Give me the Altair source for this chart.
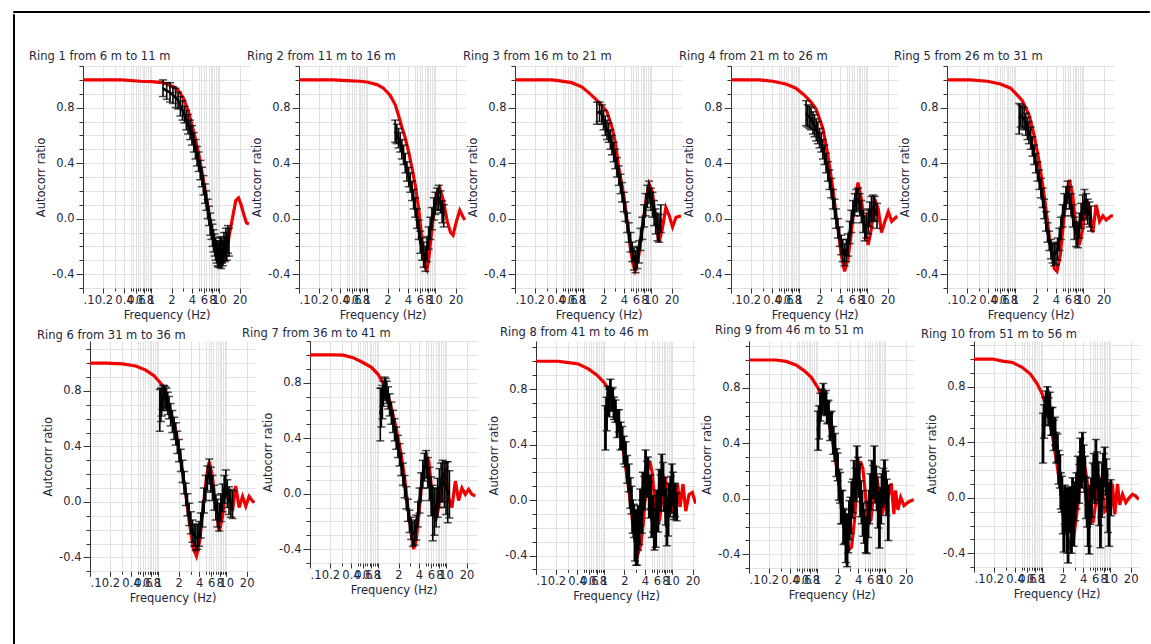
import altair as alt
import pandas as pd

TITLES = ["Ring 1 from 6 m to 11 m", "Ring 2 from 11 m to 16 m", "Ring 3 from 16 m to 21 m",
          "Ring 4 from 21 m to 26 m", "Ring 5 from 26 m to 31 m", "Ring 6 from 31 m to 36 m",
          "Ring 7 from 36 m to 41 m", "Ring 8 from 41 m to 46 m", "Ring 9 from 46 m to 51 m",
          "Ring 10 from 51 m to 56 m"]

X_TICKS = [0.1, 0.2, 0.3, 0.4, 0.5, 0.55, 0.6, 0.65, 0.7, 0.75, 0.8, 0.85, 0.9, 0.95, 1,
           2, 3, 4, 5, 5.5, 6, 6.5, 7, 7.5, 8, 8.5, 9, 9.5, 10, 20]
X_LABEL_VALUES = [0.1, 0.2, 0.4, 0.6, 0.8, 1, 2, 4, 6, 8, 10, 20]
X_LABEL_TEXT = [".1", "0.2", "0.4", "0.6", "0.8", "1", "2", "4", "6", "8", "10", "20"]
Y_TICKS = [-0.5, -0.4, -0.3, -0.2, -0.1, 0.0, 0.1, 0.2, 0.3, 0.4, 0.5, 0.6, 0.7, 0.8, 0.9, 1.0, 1.1]
Y_LABELED = [-0.4, 0.0, 0.4, 0.8]

# ---------------- Ring 1 ----------------
R1_RED_F = [0.1, 0.37, 0.7, 1.03, 1.45, 1.82, 2.16, 2.56, 3.04, 3.6,
            4.27, 5.06, 5.67, 6.35, 7.1, 7.97, 8.93, 10.0, 10.8, 11.9,
            13.0, 14.0, 15.7, 17.6, 19.3, 21.1, 23.4, 25.3, 27.5]
R1_RED_V = [1.0, 1.0, 0.99, 0.988, 0.98, 0.965, 0.95, 0.92, 0.86, 0.76,
            0.62, 0.46, 0.32, 0.19, 0.03, -0.1, -0.2, -0.29, -0.33, -0.31,
            -0.22, -0.13, 0.0, 0.13, 0.15, 0.1, 0.02, -0.03, -0.04]
R1_F = [1.5, 1.7, 1.9, 2.1, 2.3, 2.5, 2.7, 2.9, 3.1, 3.3,
        3.5, 3.75, 4.0, 4.25, 4.5, 4.75, 5.0, 5.3, 5.6, 5.9,
        6.2, 6.5, 6.8, 7.1, 7.4, 7.7, 8.0, 8.3, 8.6, 8.9,
        9.2, 9.5, 9.8, 10.1, 10.4, 10.7, 11.0, 11.4, 11.8, 12.2,
        12.6, 13.0, 13.5, 14.0]
R1_V = [0.94, 0.92, 0.91, 0.89, 0.87, 0.85, 0.81, 0.78, 0.75, 0.71,
        0.68, 0.64, 0.60, 0.55, 0.50, 0.45, 0.41, 0.35, 0.30, 0.24,
        0.18, 0.13, 0.07, 0.02, -0.04, -0.08, -0.12, -0.16, -0.19, -0.22,
        -0.24, -0.25, -0.27, -0.26, -0.22, -0.27, -0.23, -0.25, -0.20, -0.22,
        -0.17, -0.20, -0.15, -0.17]
R1_E = [0.06, 0.06, 0.07, 0.06, 0.07, 0.06, 0.07, 0.07, 0.06, 0.07,
        0.07, 0.07, 0.07, 0.07, 0.07, 0.07, 0.07, 0.07, 0.07, 0.07,
        0.07, 0.07, 0.07, 0.07, 0.08, 0.07, 0.08, 0.08, 0.08, 0.08,
        0.08, 0.09, 0.08, 0.09, 0.09, 0.09, 0.09, 0.09, 0.10, 0.09,
        0.10, 0.10, 0.10, 0.10]

# ---------------- Ring 2 ----------------
R2_RED_F = [0.1, 0.32, 0.5, 0.79, 1.0, 1.4, 1.74, 2.18, 2.6, 2.9,
            3.25, 3.65, 4.1, 4.6, 5.12, 5.74, 6.42, 6.8, 7.2, 7.6,
            8.07, 9.04, 10.1, 11.7, 13.1, 15.1, 16.9, 18.4, 20.6, 23.1,
            25.9, 27.5]
R2_RED_V = [1.0, 1.0, 0.995, 0.99, 0.985, 0.966, 0.94, 0.89, 0.82, 0.745,
            0.66, 0.58, 0.48, 0.36, 0.24, 0.07, -0.15, -0.28, -0.35, -0.37,
            -0.29, -0.07, 0.14, 0.22, 0.14, -0.02, -0.1, -0.12, -0.02, 0.06,
            0.01, -0.01]
R2_F = [2.59, 2.74, 2.9, 3.07, 3.25, 3.44, 3.65, 3.86, 4.1, 4.32,
        4.6, 4.84, 5.1, 5.42, 5.75, 6.07, 6.4, 6.81, 7.2, 7.63,
        8.05, 8.5, 9.0, 9.6, 10.1, 10.7, 11.3, 12.0, 12.7, 13.4]
R2_V = [0.63, 0.61, 0.58, 0.55, 0.50, 0.46, 0.40, 0.34, 0.30, 0.26,
        0.20, 0.14, 0.08, 0.0, -0.08, -0.17, -0.22, -0.26, -0.29, -0.22,
        -0.14, -0.07, 0.0, 0.07, 0.11, 0.14, 0.15, 0.12, 0.05, 0.02]
R2_E = [0.08, 0.07, 0.07, 0.07, 0.07, 0.07, 0.07, 0.07, 0.07, 0.07,
        0.07, 0.07, 0.07, 0.07, 0.07, 0.08, 0.08, 0.09, 0.09, 0.09,
        0.08, 0.08, 0.08, 0.08, 0.08, 0.08, 0.09, 0.08, 0.08, 0.08]

# ---------------- Ring 3 ----------------
R3_RED_F = [0.1, 0.34, 0.43, 0.68, 0.955, 1.2, 1.51, 1.79, 2.25, 2.66,
            2.98, 3.35, 3.97, 4.45, 4.98, 5.4, 5.78, 6.63, 7.43, 8.33,
            9.34, 10.5, 11.7, 13.1, 14.7, 16.5, 18.5, 20.7, 23.3, 27.5]
R3_RED_V = [1.0, 1.0, 0.995, 0.98, 0.95, 0.91, 0.865, 0.83, 0.77, 0.66,
            0.55, 0.37, 0.17, -0.02, -0.22, -0.32, -0.37, -0.26, -0.07, 0.12,
            0.25, 0.19, -0.02, -0.17, -0.07, 0.08, 0.02, -0.06, 0.01, 0.02]
R3_F = [1.6, 1.75, 1.89, 2.0, 2.12, 2.25, 2.38, 2.52, 2.66, 2.82,
        2.98, 3.15, 3.35, 3.55, 3.75, 3.97, 4.2, 4.45, 4.7, 5.0,
        5.28, 5.6, 5.92, 6.25, 6.63, 7.0, 7.43, 7.9, 8.33, 8.8,
        9.34, 9.9, 10.5, 11.1, 11.7, 12.4, 13.1, 13.9]
R3_V = [0.76, 0.77, 0.75, 0.71, 0.67, 0.64, 0.62, 0.57, 0.53, 0.48,
        0.43, 0.37, 0.31, 0.25, 0.19, 0.12, 0.05, -0.03, -0.10, -0.17,
        -0.24, -0.29, -0.31, -0.28, -0.24, -0.15, -0.07, 0.02, 0.10, 0.16,
        0.19, 0.14, 0.10, 0.04, -0.02, -0.06, -0.07, 0.0]
R3_E = [0.08, 0.07, 0.07, 0.07, 0.07, 0.07, 0.07, 0.07, 0.07, 0.07,
        0.07, 0.07, 0.07, 0.07, 0.07, 0.07, 0.07, 0.07, 0.07, 0.07,
        0.07, 0.08, 0.08, 0.08, 0.08, 0.08, 0.08, 0.08, 0.08, 0.08,
        0.08, 0.08, 0.09, 0.09, 0.09, 0.10, 0.10, 0.10]

# ---------------- Ring 4 ----------------
R4_RED_F = [0.1, 0.26, 0.41, 0.64, 0.9, 1.2, 1.5, 1.78, 2.24, 2.65,
            3.14, 3.72, 4.17, 4.67, 5.24, 5.87, 6.58, 7.37, 8.26, 9.25,
            10.4, 11.6, 13.0, 14.6, 16.3, 18.3, 20.5, 23.0, 26.6, 27.5]
R4_RED_V = [1.0, 1.0, 0.99, 0.97, 0.94, 0.89, 0.84, 0.79, 0.65, 0.46,
            0.22, -0.07, -0.26, -0.38, -0.29, -0.1, 0.12, 0.26, 0.14, -0.07,
            -0.19, -0.07, 0.14, 0.07, -0.1, -0.02, 0.05, -0.02, 0.01, 0.0]
R4_F = [1.27, 1.34, 1.42, 1.5, 1.6, 1.69, 1.79, 1.89, 2.0, 2.12,
        2.24, 2.37, 2.5, 2.65, 2.8, 2.97, 3.15, 3.33, 3.5, 3.72,
        3.95, 4.17, 4.4, 4.67, 4.95, 5.24, 5.55, 5.87, 6.2, 6.58,
        6.95, 7.37, 7.8, 8.26, 8.75, 9.25, 9.8, 10.4, 11.0, 11.6,
        12.3, 13.0, 14.0]
R4_V = [0.76, 0.74, 0.73, 0.72, 0.69, 0.67, 0.64, 0.62, 0.58, 0.55,
        0.50, 0.46, 0.40, 0.34, 0.28, 0.22, 0.14, 0.07, 0.0, -0.07,
        -0.13, -0.19, -0.23, -0.26, -0.23, -0.19, -0.10, -0.02, 0.05, 0.10,
        0.13, 0.14, 0.10, 0.05, -0.02, -0.07, -0.05, -0.02, 0.03, 0.07,
        0.08, 0.07, 0.02]
R4_E = [0.09, 0.08, 0.08, 0.08, 0.08, 0.08, 0.08, 0.08, 0.07, 0.07,
        0.07, 0.07, 0.07, 0.07, 0.07, 0.07, 0.07, 0.07, 0.07, 0.07,
        0.07, 0.07, 0.08, 0.08, 0.08, 0.08, 0.08, 0.08, 0.08, 0.08,
        0.08, 0.08, 0.08, 0.08, 0.08, 0.09, 0.09, 0.09, 0.09, 0.09,
        0.09, 0.09, 0.09]

# ---------------- Ring 5 ----------------
R5_RED_F = [0.1, 0.22, 0.39, 0.61, 0.86, 1.08, 1.28, 1.61, 1.91, 2.26,
            2.68, 3.0, 3.37, 3.77, 4.13, 4.63, 5.18, 5.81, 6.29, 7.04,
            7.89, 8.84, 9.9, 11.1, 12.4, 13.9, 15.6, 17.5, 19.6, 21.9,
            26.0, 27.5]
R5_RED_V = [1.0, 1.0, 0.99, 0.97, 0.94, 0.89, 0.85, 0.745, 0.60, 0.41,
            0.17, -0.02, -0.22, -0.36, -0.38, -0.26, -0.02, 0.19, 0.28, 0.17,
            -0.07, -0.19, -0.07, 0.14, 0.07, -0.1, 0.1, -0.02, 0.02, -0.01,
            0.02, 0.02]
R5_F = [1.15, 1.21, 1.28, 1.36, 1.44, 1.52, 1.6, 1.7, 1.8, 1.91,
        2.02, 2.14, 2.27, 2.4, 2.54, 2.68, 2.84, 3.0, 3.18, 3.37,
        3.57, 3.77, 4.0, 4.23, 4.48, 4.73, 5.0, 5.3, 5.6, 5.94,
        6.3, 6.65, 7.05, 7.45, 7.9, 8.36, 8.85, 9.36, 9.9, 10.5,
        11.1, 11.7, 12.4, 13.1]
R5_V = [0.72, 0.74, 0.73, 0.72, 0.68, 0.65, 0.62, 0.58, 0.52, 0.46,
        0.40, 0.34, 0.28, 0.22, 0.15, 0.07, -0.02, -0.10, -0.16, -0.22,
        -0.25, -0.26, -0.25, -0.22, -0.15, -0.07, 0.02, 0.10, 0.15, 0.19,
        0.15, 0.10, 0.02, -0.07, -0.11, -0.12, -0.05, 0.02, 0.08, 0.12,
        0.09, 0.05, 0.03, 0.0]
R5_E = [0.11, 0.08, 0.08, 0.08, 0.08, 0.08, 0.08, 0.08, 0.07, 0.07,
        0.07, 0.07, 0.07, 0.07, 0.07, 0.07, 0.07, 0.07, 0.07, 0.07,
        0.07, 0.08, 0.08, 0.08, 0.08, 0.08, 0.08, 0.08, 0.08, 0.08,
        0.08, 0.08, 0.08, 0.08, 0.09, 0.09, 0.09, 0.09, 0.09, 0.09,
        0.09, 0.09, 0.09, 0.09]

# ---------------- Ring 6 ----------------
R6_RED_F = [0.1, 0.17, 0.3, 0.47, 0.66, 0.87, 1.03, 1.16, 1.45, 1.82,
            2.15, 2.55, 2.86, 3.27, 3.66, 4.1, 4.59, 5.13, 5.63, 6.3,
            7.05, 7.89, 8.83, 9.88, 11.0, 12.4, 13.8, 15.5, 17.4, 19.4,
            21.7, 24.3, 26.0]
R6_RED_V = [1.0, 1.0, 0.995, 0.98, 0.95, 0.91, 0.87, 0.84, 0.70, 0.51,
            0.30, 0.055, -0.14, -0.33, -0.39, -0.28, -0.04, 0.18, 0.29, 0.18,
            -0.04, -0.21, -0.11, 0.10, 0.055, -0.065, 0.115, -0.04, 0.04, -0.03,
            0.04, 0.007, -0.005]
R6_F = [1.06, 1.1, 1.13, 1.18, 1.22, 1.28, 1.33, 1.39, 1.45, 1.53,
        1.62, 1.72, 1.82, 1.92, 2.03, 2.15, 2.28, 2.41, 2.55, 2.7,
        2.86, 3.03, 3.2, 3.38, 3.58, 3.79, 4.0, 4.23, 4.48, 4.74,
        5.02, 5.3, 5.63, 5.95, 6.3, 6.65, 7.05, 7.45, 7.89, 8.35,
        8.83, 9.35, 9.88, 10.4, 11.0, 11.7, 12.4]
R6_V = [0.66, 0.70, 0.72, 0.75, 0.76, 0.75, 0.74, 0.71, 0.68, 0.63,
        0.58, 0.53, 0.49, 0.43, 0.37, 0.30, 0.22, 0.14, 0.055, -0.02,
        -0.09, -0.15, -0.21, -0.24, -0.26, -0.25, -0.23, -0.17, -0.09, 0.01,
        0.10, 0.17, 0.22, 0.16, 0.10, 0.03, -0.04, -0.08, -0.11, -0.04,
        0.03, 0.09, 0.13, 0.06, 0.01, -0.01, -0.02]
R6_E = [0.15, 0.12, 0.10, 0.09, 0.08, 0.08, 0.08, 0.08, 0.08, 0.08,
        0.08, 0.08, 0.08, 0.08, 0.08, 0.08, 0.08, 0.08, 0.08, 0.08,
        0.08, 0.08, 0.08, 0.08, 0.09, 0.09, 0.09, 0.09, 0.09, 0.09,
        0.09, 0.09, 0.09, 0.09, 0.09, 0.09, 0.09, 0.10, 0.10, 0.10,
        0.10, 0.10, 0.10, 0.10, 0.10, 0.10, 0.10]

# ---------------- Ring 7 ----------------
R7_RED_F = [0.1, 0.22, 0.31, 0.43, 0.6, 0.8, 1.0, 1.18, 1.48, 1.85,
            2.19, 2.46, 2.75, 3.07, 3.33, 3.64, 4.07, 4.55, 5.1, 5.58,
            6.24, 6.98, 7.8, 8.73, 9.76, 10.9, 12.2, 13.7, 15.3, 17.1,
            19.2, 21.4, 24.0, 26.8]
R7_RED_V = [1.0, 1.0, 0.998, 0.98, 0.945, 0.91, 0.86, 0.80, 0.67, 0.475,
            0.28, 0.115, -0.1, -0.29, -0.40, -0.34, -0.1, 0.14, 0.28, 0.235,
            -0.005, -0.2, -0.1, 0.115, 0.16, -0.03, -0.1, 0.09, -0.05, 0.04,
            -0.005, 0.03, -0.005, -0.017]
R7_F = [1.08, 1.12, 1.16, 1.2, 1.25, 1.3, 1.35, 1.41, 1.48, 1.57,
        1.66, 1.75, 1.85, 1.96, 2.07, 2.19, 2.32, 2.46, 2.6, 2.75,
        2.9, 3.07, 3.25, 3.44, 3.64, 3.85, 4.07, 4.3, 4.55, 4.82,
        5.1, 5.4, 5.7, 6.03, 6.38, 6.75, 7.14, 7.55, 7.98, 8.45,
        8.93, 9.45, 10.0, 10.6, 11.2]
R7_V = [0.57, 0.62, 0.66, 0.72, 0.76, 0.75, 0.73, 0.69, 0.64, 0.58,
        0.52, 0.46, 0.40, 0.34, 0.28, 0.21, 0.14, 0.05, -0.03, -0.12,
        -0.20, -0.25, -0.29, -0.28, -0.245, -0.15, -0.05, 0.05, 0.14, 0.19,
        0.21, 0.15, 0.07, -0.02, -0.14, -0.13, -0.10, -0.03, 0.04, 0.08,
        0.09, 0.06, 0.04, 0.01, -0.005]
R7_E = [0.19, 0.14, 0.12, 0.09, 0.08, 0.08, 0.08, 0.08, 0.08, 0.08,
        0.08, 0.08, 0.08, 0.08, 0.08, 0.08, 0.08, 0.08, 0.08, 0.08,
        0.08, 0.08, 0.09, 0.09, 0.09, 0.09, 0.09, 0.10, 0.10, 0.10,
        0.10, 0.11, 0.12, 0.14, 0.20, 0.17, 0.14, 0.14, 0.14, 0.14,
        0.15, 0.16, 0.19, 0.22, 0.17]

# ---------------- Ring 8 ----------------
R8_RED_F = [0.1, 0.21, 0.3, 0.42, 0.59, 0.79, 0.99, 1.17, 1.4, 1.7,
            2.0, 2.3, 2.6, 2.9, 3.2, 3.5, 3.8, 4.3, 4.7, 5.1,
            5.6, 6.1, 6.6, 7.2, 7.8, 8.5, 9.3, 10.2, 11.0, 12.0,
            13.1, 14.5, 15.9, 17.8, 19.9, 21.2, 22.3]
R8_RED_V = [1.0, 1.0, 0.99, 0.98, 0.945, 0.90, 0.85, 0.80, 0.70, 0.52,
            0.30, 0.08, -0.14, -0.30, -0.38, -0.32, -0.15, 0.20, 0.28, 0.20,
            -0.02, -0.18, -0.14, 0.05, 0.17, 0.08, -0.1, -0.08, 0.06, 0.115,
            -0.05, 0.115, -0.08, 0.04, 0.055, 0.007, -0.025]
R8_F = [1.05, 1.09, 1.13, 1.18, 1.24, 1.29, 1.34, 1.40, 1.47, 1.56,
        1.65, 1.75, 1.85, 1.96, 2.07, 2.19, 2.31, 2.42, 2.53, 2.63,
        2.74, 2.85, 2.97, 3.07, 3.18, 3.3, 3.44, 3.58, 3.72, 3.9,
        4.08, 4.25, 4.42, 4.63, 4.84, 5.04, 5.24, 5.5, 5.74, 5.97,
        6.2, 6.5, 6.79, 7.07, 7.36, 7.7, 8.07, 8.4, 8.74, 9.15,
        9.56, 9.95, 10.3, 10.7, 11.1, 11.7]
R8_V = [0.52, 0.62, 0.74, 0.70, 0.81, 0.72, 0.74, 0.66, 0.64, 0.55,
        0.57, 0.46, 0.45, 0.36, 0.33, 0.22, 0.16, 0.05, 0.0, -0.12,
        -0.15, -0.30, -0.27, -0.32, -0.20, -0.20, -0.05, -0.12, 0.10, 0.05,
        0.24, 0.15, 0.19, 0.0, 0.06, -0.15, -0.10, -0.24, -0.20, -0.05,
        -0.10, 0.10, 0.05, 0.22, 0.15, 0.04, -0.05, -0.20, -0.12, 0.0,
        0.04, 0.15, 0.08, -0.02, 0.0, -0.05]
R8_E = [0.16, 0.12, 0.08, 0.1, 0.06, 0.08, 0.07, 0.08, 0.08, 0.1,
        0.08, 0.1, 0.08, 0.1, 0.09, 0.1, 0.1, 0.11, 0.1, 0.12,
        0.12, 0.14, 0.2, 0.15, 0.16, 0.12, 0.13, 0.12, 0.1, 0.12,
        0.12, 0.13, 0.12, 0.13, 0.12, 0.12, 0.13, 0.12, 0.14, 0.12,
        0.13, 0.12, 0.13, 0.11, 0.12, 0.12, 0.13, 0.13, 0.14, 0.12,
        0.13, 0.11, 0.12, 0.12, 0.12, 0.1]

# ---------------- Ring 9 ----------------
R9_RED_F = [0.1, 0.25, 0.35, 0.49, 0.66, 0.82, 1.03, 1.2, 1.45, 1.7,
            2.0, 2.3, 2.6, 2.9, 3.2, 3.5, 3.9, 4.3, 4.7, 5.2,
            5.7, 6.2, 6.8, 7.4, 8.1, 8.9, 9.7, 10.5, 11.3, 12.3,
            13.4, 14.2, 15.4, 16.9, 18.9, 21.7, 25.2, 26.3]
R9_RED_V = [1.0, 1.0, 0.99, 0.965, 0.92, 0.875, 0.80, 0.72, 0.58, 0.40,
            0.18, -0.05, -0.25, -0.37, -0.35, -0.18, 0.1, 0.27, 0.22, 0.0,
            -0.18, -0.15, 0.06, 0.18, 0.05, -0.12, -0.05, 0.08, 0.035, 0.11,
            -0.11, 0.06, -0.08, 0.01, -0.05, -0.025, -0.01, -0.01]
R9_F = [1.03, 1.07, 1.12, 1.17, 1.23, 1.29, 1.35, 1.41, 1.47, 1.55,
        1.63, 1.73, 1.83, 1.92, 2.0, 2.09, 2.17, 2.26, 2.35, 2.45,
        2.55, 2.65, 2.76, 2.87, 2.98, 3.1, 3.23, 3.36, 3.5, 3.67,
        3.84, 4.0, 4.16, 4.35, 4.55, 4.73, 4.93, 5.15, 5.4, 5.6,
        5.85, 6.1, 6.41, 6.65, 6.94, 7.25, 7.61, 7.9, 8.24, 8.6,
        9.0, 9.4, 9.78, 10.1, 10.5, 11.1]
R9_V = [0.49, 0.55, 0.66, 0.70, 0.77, 0.68, 0.71, 0.62, 0.63, 0.52,
        0.54, 0.42, 0.37, 0.26, 0.23, 0.10, 0.08, -0.06, -0.06, -0.20,
        -0.20, -0.32, -0.30, -0.25, -0.155, -0.12, -0.01, 0.02, 0.155, 0.10,
        0.23, 0.18, 0.13, 0.0, -0.06, -0.15, -0.20, -0.26, -0.275, -0.15,
        -0.06, 0.05, 0.155, 0.12, 0.23, 0.10, 0.035, -0.08, -0.155, -0.05,
        0.06, 0.10, 0.18, 0.08, 0.01, -0.10]
R9_E = [0.14, 0.12, 0.1, 0.09, 0.06, 0.08, 0.07, 0.08, 0.08, 0.1,
        0.09, 0.1, 0.1, 0.1, 0.1, 0.11, 0.11, 0.12, 0.12, 0.13,
        0.12, 0.14, 0.19, 0.14, 0.14, 0.13, 0.13, 0.12, 0.12, 0.12,
        0.15, 0.12, 0.12, 0.13, 0.12, 0.12, 0.12, 0.13, 0.12, 0.13,
        0.12, 0.13, 0.12, 0.12, 0.15, 0.13, 0.12, 0.13, 0.2, 0.13,
        0.12, 0.12, 0.1, 0.12, 0.13, 0.2]

# ---------------- Ring 10 ----------------
R10_RED_F = [0.1, 0.19, 0.26, 0.37, 0.51, 0.68, 0.85, 1.01, 1.2, 1.45,
             1.7, 2.0, 2.3, 2.6, 2.9, 3.3, 3.7, 4.1, 4.6, 5.1,
             5.6, 6.2, 6.8, 7.5, 8.3, 9.2, 10.2, 10.8, 11.7, 12.8,
             13.8, 15.2, 17.0, 19.0, 21.3, 23.8, 26.3]
R10_RED_V = [1.0, 1.0, 0.985, 0.975, 0.94, 0.89, 0.82, 0.745, 0.62, 0.42,
             0.2, -0.05, -0.25, -0.36, -0.3, -0.08, 0.18, 0.27, 0.12, -0.1,
             -0.18, -0.02, 0.15, 0.1, -0.1, -0.08, -0.07, 0.1, -0.12, 0.1,
             -0.05, 0.025, -0.035, 0.0, 0.025, 0.012, -0.012]
R10_F = [1.03, 1.07, 1.11, 1.15, 1.2, 1.25, 1.3, 1.36, 1.42, 1.48,
         1.55, 1.61, 1.68, 1.75, 1.82, 1.88, 1.95, 2.02, 2.08, 2.15,
         2.23, 2.32, 2.41, 2.5, 2.61, 2.7, 2.8, 2.92, 3.06, 3.2,
         3.35, 3.5, 3.66, 3.8, 3.92, 4.08, 4.24, 4.4, 4.59, 4.75,
         4.91, 5.1, 5.32, 5.55, 5.75, 5.95, 6.16, 6.4, 6.66, 6.9,
         7.2, 7.45, 7.7, 8.0, 8.3, 8.65, 9.0, 9.3, 9.65, 10.2]
R10_V = [0.43, 0.55, 0.625, 0.68, 0.72, 0.62, 0.67, 0.55, 0.55, 0.45,
         0.48, 0.36, 0.36, 0.22, 0.19, 0.05, 0.025, -0.12, -0.17, -0.05,
         -0.07, -0.25, -0.2, -0.1, -0.07, -0.25, 0.025, -0.2, -0.025, 0.05,
         0.17, 0.1, 0.31, 0.2, 0.36, 0.25, 0.17, 0.0, -0.07, -0.2,
         -0.215, -0.05, 0.0, 0.12, 0.19, 0.1, 0.31, 0.2, 0.12, -0.05,
         -0.12, 0.0, 0.12, 0.2, 0.265, 0.15, 0.07, -0.1, -0.12, 0.0]
R10_E = [0.18, 0.12, 0.1, 0.09, 0.08, 0.1, 0.09, 0.1, 0.1, 0.11,
         0.1, 0.11, 0.1, 0.12, 0.12, 0.13, 0.13, 0.14, 0.22, 0.14,
         0.14, 0.15, 0.27, 0.15, 0.15, 0.15, 0.12, 0.15, 0.14, 0.13,
         0.13, 0.14, 0.12, 0.13, 0.11, 0.13, 0.13, 0.15, 0.14, 0.15,
         0.19, 0.14, 0.14, 0.13, 0.13, 0.14, 0.11, 0.13, 0.14, 0.15,
         0.24, 0.14, 0.13, 0.12, 0.1, 0.13, 0.14, 0.15, 0.23, 0.13]

RED_F = [R1_RED_F, R2_RED_F, R3_RED_F, R4_RED_F, R5_RED_F, R6_RED_F, R7_RED_F, R8_RED_F, R9_RED_F, R10_RED_F]
RED_V = [R1_RED_V, R2_RED_V, R3_RED_V, R4_RED_V, R5_RED_V, R6_RED_V, R7_RED_V, R8_RED_V, R9_RED_V, R10_RED_V]
DAT_F = [R1_F, R2_F, R3_F, R4_F, R5_F, R6_F, R7_F, R8_F, R9_F, R10_F]
DAT_V = [R1_V, R2_V, R3_V, R4_V, R5_V, R6_V, R7_V, R8_V, R9_V, R10_V]
DAT_E = [R1_E, R2_E, R3_E, R4_E, R5_E, R6_E, R7_E, R8_E, R9_E, R10_E]

# ---------------- styling / layout ----------------
FONT = "DejaVu Sans"
TXT = "#23263a"
RED = "#ee0000"
GRID = "#e1e1e1"
FS = 11.5
PX_PER_UNIT = 138.75
WIDTHS = [167, 167, 167, 167, 167, 165, 167, 160, 165, 165]
XMAX = [28.5, 28.5, 28.5, 28.5, 28.5, 26.5, 28.5, 22.5, 26.5, 26.5]
YTOP = [1.1, 1.1, 1.1, 1.1, 1.1, 1.16, 1.1, 1.146, 1.137, 1.13]
TITLE_DX = [-54, -52, -52, -52, -53, -53, -68, -36, -34, -53]
TITLE_OFF = [-2.4, -2.4, -2.4, -2.4, -2.4, -0.2, -4.4, 2.8, 3.7, -1.2]
BAR_W = [1.6, 1.6, 1.6, 1.6, 1.6, 1.6, 1.6, 2.8, 2.8, 2.8]
LINE_W = [2.6, 2.6, 2.6, 2.6, 2.6, 2.6, 2.6, 3.0, 3.0, 3.0]

x_label_expr = " : ".join(
    f"datum.value == {v} ? '{t}'" for v, t in zip(X_LABEL_VALUES, X_LABEL_TEXT)) + " : ''"
y_label_expr = (f"indexof({Y_LABELED}, datum.value) >= 0 ? "
                "replace(format(datum.value, '.1f'), '\u2212', '-') : ''")

x_axis = alt.Axis(values=X_TICKS, labelExpr=x_label_expr, title="Frequency (Hz)",
                  grid=True, gridColor=GRID, gridWidth=1, domain=False,
                  tickColor="#333333", tickWidth=1,
                  tickSize={"condition": {"test": f"indexof({X_LABEL_VALUES}, datum.value) >= 0",
                                          "value": 5}, "value": 3},
                  labelFont=FONT, labelFontSize=FS, labelColor=TXT, labelPadding=1,
                  labelOverlap=False, labelFlush=True,
                  titleFont=FONT, titleFontSize=FS, titleFontWeight="normal",
                  titleColor=TXT, titlePadding=4)
y_axis = alt.Axis(values=Y_TICKS, labelExpr=y_label_expr, title="Autocorr ratio",
                  grid=True, gridColor=GRID, gridWidth=1, domain=True,
                  domainColor="#333333", tickColor="#333333", tickWidth=1,
                  tickSize={"condition": {"test": f"indexof({Y_LABELED}, datum.value) >= 0",
                                          "value": 7}, "value": 4},
                  labelFont=FONT, labelFontSize=FS, labelColor=TXT, labelPadding=2,
                  labelOverlap=False,
                  titleFont=FONT, titleFontSize=FS, titleFontWeight="normal",
                  titleColor=TXT, titlePadding=5)

SPACER_DF = pd.DataFrame({"s": [0]})


def spacer(w, h):
    return alt.Chart(SPACER_DF).mark_point(opacity=0, size=0).encode(
        x=alt.value(0), y=alt.value(0)).properties(width=w, height=h)


def frame(w, h):
    return spacer(w, h).properties(view=alt.ViewBackground(stroke="black", strokeWidth=1))


def panel(i):
    red_df = pd.DataFrame({"f": RED_F[i], "v": RED_V[i]})
    dat_df = pd.DataFrame({"f": DAT_F[i], "v": DAT_V[i], "e": DAT_E[i]})
    dat_df["lo"] = dat_df["v"] - dat_df["e"]
    dat_df["hi"] = dat_df["v"] + dat_df["e"]
    xs = alt.Scale(type="log", domain=[0.1, XMAX[i]], nice=False)
    ys = alt.Scale(domain=[-0.5, YTOP[i]], nice=False, zero=False)
    X = alt.X("f:Q", scale=xs, axis=x_axis)
    red = alt.Chart(red_df).mark_line(color=RED, strokeWidth=3.2, clip=True).encode(
        x=X, y=alt.Y("v:Q", scale=ys, axis=y_axis))
    bars = alt.Chart(dat_df).mark_rule(color="black", strokeWidth=BAR_W[i], clip=True).encode(
        x=X, y=alt.Y("lo:Q", scale=ys, axis=y_axis), y2="hi:Q")
    cap_hi = alt.Chart(dat_df).mark_tick(color="black", orient="horizontal", size=8,
                                         thickness=1.5, clip=True).encode(
        x=X, y=alt.Y("hi:Q", scale=ys, axis=y_axis))
    cap_lo = alt.Chart(dat_df).mark_tick(color="black", orient="horizontal", size=8,
                                         thickness=1.5, clip=True).encode(
        x=X, y=alt.Y("lo:Q", scale=ys, axis=y_axis))
    line = alt.Chart(dat_df).mark_line(color="black", strokeWidth=LINE_W[i], clip=True).encode(
        x=X, y=alt.Y("v:Q", scale=ys, axis=y_axis))
    return alt.layer(red, bars, cap_hi, cap_lo, line).properties(
        width=WIDTHS[i], height=(YTOP[i] + 0.5) * PX_PER_UNIT,
        title=alt.TitleParams(TITLES[i], anchor="start", frame="group", dx=TITLE_DX[i],
                              offset=TITLE_OFF[i], font=FONT, fontSize=FS,
                              fontWeight="normal", color=TXT))


P = [panel(i) for i in range(10)]

row1 = alt.hconcat(spacer(60, 1), P[0], spacer(49, 1), P[1], spacer(49, 1), P[2],
                   spacer(49, 1), P[3], spacer(49, 1), P[4], spacing=0, bounds="flush")
row2 = alt.hconcat(spacer(67, 1), P[5], spacer(55, 1), P[6], spacer(59, 1), P[7],
                   spacer(53, 1), P[8], spacer(60, 1), P[9], spacing=0, bounds="flush")
rows = alt.vconcat(spacer(1, 36), row1, spacer(1, 3), row2, spacing=0)
body = alt.hconcat(frame(1, 630), rows, spacing=8)
chart = alt.vconcat(frame(1136, 1), body, spacing=0).properties(
    padding={"left": 12, "top": 10, "right": 0, "bottom": 0},
    background="white",
).configure_view(stroke=None)

chart.save("out.html", embed_options={"renderer": "svg", "actions": False})
